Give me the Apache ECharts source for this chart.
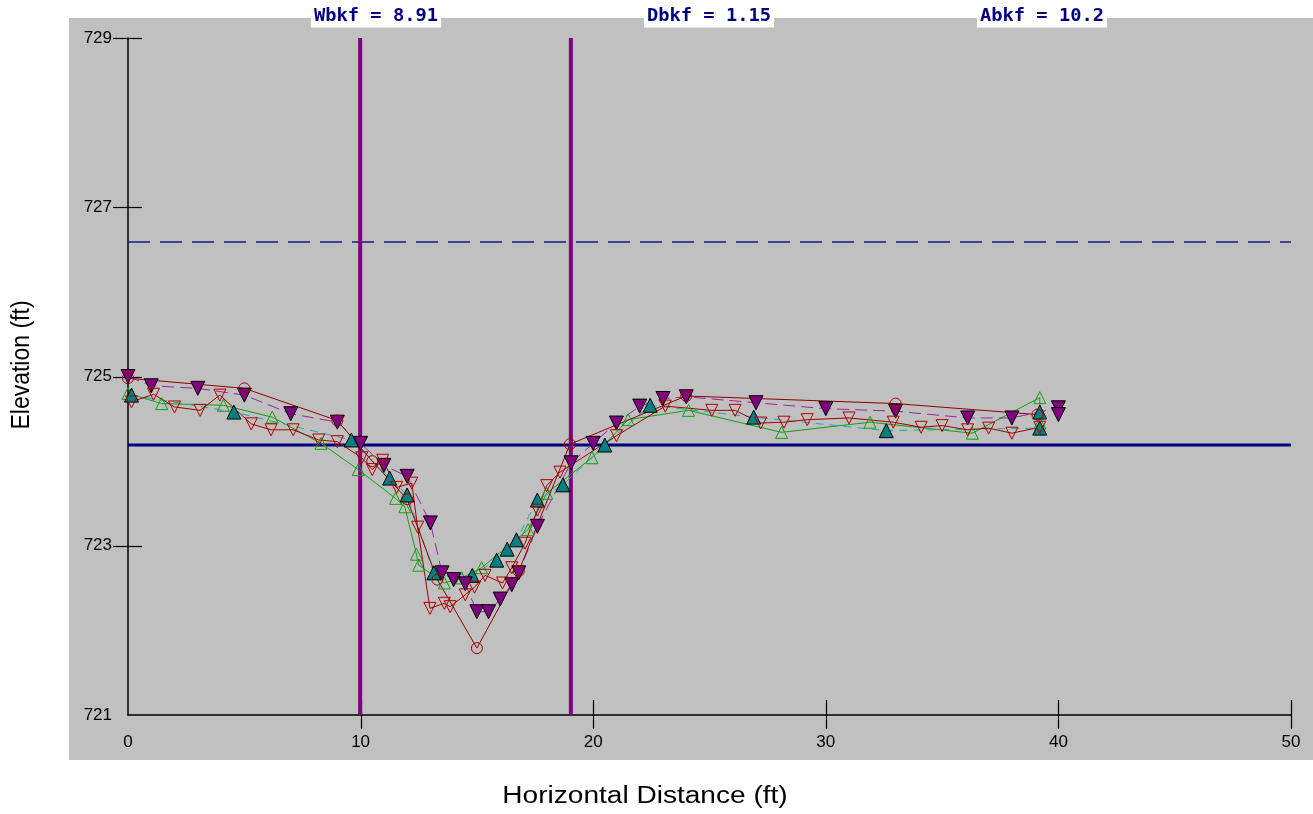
<!DOCTYPE html>
<html><head><meta charset="utf-8">
<script src="https://cdn.jsdelivr.net/npm/echarts@6/dist/echarts.min.js"></script>
<style>html,body{margin:0;padding:0;background:#fff}#c{width:1313px;height:814px}</style>
</head><body><div id="c"></div>
<script>
// ---- data ----
const xTickValues = [0, 10, 20, 30, 40, 50];
const yTickValues = [721, 723, 725, 727, 729];
const bankfullElev = 724.19;
const floodproneElev = 726.59;
const bankfullLeft = 9.98;
const bankfullRight = 19.04;
const summaryLabels = ['Wbkf = 8.91', 'Dbkf = 1.15', 'Abkf = 10.2'];

const surveyCircles = [[0,724.98],[5,724.86],[9,724.48],[10.5,724.0],[12,723.55],[13.3,722.6],[15,721.79],[16.8,722.7],[19,724.2],[24,724.77],[33,724.68],[39.1,724.55]];
const surveyPurple = [[0,725.0],[1,724.89],[3,724.86],[5,724.78],[7,724.56],[9,724.46],[10,724.21],[11,723.95],[12,723.82],[13,723.27],[13.5,722.68],[14,722.6],[14.5,722.55],[15,722.22],[15.5,722.22],[16,722.37],[16.5,722.54],[16.8,722.68],[17.6,723.23],[19.05,723.98],[20,724.21],[21,724.45],[22,724.65],[23,724.74],[24,724.76],[27,724.69],[30,724.62],[33,724.59],[36.1,724.51],[38,724.51],[40,724.63],[40,724.55]];
const surveyTeal = [[0.15,724.78],[4.55,724.58],[9.6,724.25],[11.25,723.8],[12,723.6],[13.15,722.68],[14.8,722.65],[15.85,722.83],[16.3,722.96],[16.7,723.07],[17.6,723.54],[18.7,723.72],[20.5,724.19],[22.45,724.66],[26.9,724.52],[32.6,724.36],[39.2,724.39],[39.2,724.58]];
const surveyGreen = [[0,724.8],[1.45,724.68],[4.1,724.66],[6.2,724.52],[8.3,724.21],[9.9,723.9],[11.5,723.56],[11.9,723.46],[12.4,722.9],[12.5,722.77],[13.6,722.56],[14.35,722.62],[15.2,722.74],[17.2,723.19],[18.0,723.62],[19.95,724.04],[21.5,724.49],[24.1,724.6],[28.1,724.34],[31.9,724.46],[36.3,724.33],[39.2,724.75],[39.2,724.45]];
const surveyRed = [[0.15,724.7],[1.1,724.79],[2.0,724.64],[3.1,724.6],[3.95,724.78],[5.3,724.44],[6.15,724.37],[7.1,724.37],[8.2,724.25],[9.0,724.23],[10.05,724.04],[10.5,723.9],[10.95,724.01],[11.55,723.69],[12.2,723.74],[12.45,723.22],[12.98,722.26],[13.6,722.32],[13.85,722.28],[14.5,722.42],[14.9,722.51],[15.35,722.65],[16.1,722.56],[16.5,722.74],[17.07,723.03],[17.6,723.42],[18.0,723.71],[18.57,723.87],[21.0,724.3],[23.1,724.65],[25.1,724.6],[26.1,724.6],[27.2,724.45],[28.2,724.46],[29.2,724.49],[31.0,724.51],[32.9,724.46],[34.1,724.4],[35.0,724.42],[36.1,724.37],[37.0,724.39],[38.0,724.33],[39.2,724.4]];

// ---- chart ----
const xMin = xTickValues[0], xMax = xTickValues[xTickValues.length - 1];
const yMin = yTickValues[0], yMax = yTickValues[yTickValues.length - 1];
const chart = echarts.init(document.getElementById('c'), null, {renderer: 'canvas'});
const fontFam = '"Liberation Sans", Arial, sans-serif';

function survey(data, lineColor, lineType, symbol, rotate, fill, border, size) {
  return {
    type: 'line', data: data, xAxisIndex: 0, yAxisIndex: 0,
    symbol: symbol, symbolSize: size, symbolRotate: rotate, showAllSymbol: true,
    lineStyle: {color: lineColor, width: 1, type: lineType},
    itemStyle: {color: fill, borderColor: border, borderWidth: 1},
    emphasis: {disabled: true}, animation: false, z: 5
  };
}
function refLine(data, color, width, type, z) {
  return {type: 'line', data: data, symbol: 'none', xAxisIndex: 0, yAxisIndex: 0,
    lineStyle: {color: color, width: width, type: type}, emphasis: {disabled: true}, animation: false, z: z};
}
// x axis: crossing ticks and tick labels drawn through the axis scale
const xTickSeries = {
  type: 'custom', silent: true, clip: false, z: 2, animation: false,
  data: xTickValues.map(v => [v, yMin]),
  renderItem: function (params, api) {
    const v = api.value(0);
    const p = api.coord([v, api.value(1)]);
    const x = Math.round(p[0]) + 0.5;
    const children = [{type: 'text', x: p[0], y: p[1] + 27,
      style: {text: String(v), align: 'center', verticalAlign: 'middle', font: '17px ' + fontFam, fill: '#000'}}];
    if (v !== xMin) {
      children.push({type: 'line', shape: {x1: x, y1: p[1] - 15, x2: x, y2: p[1] + 14}, style: {stroke: '#000', lineWidth: 1.2}});
    }
    return {type: 'group', children: children};
  }
};
// y axis: crossing ticks through the axis scale
const yTickSeries = {
  type: 'custom', silent: true, clip: false, z: 2, animation: false,
  data: yTickValues.slice(1).map(v => [xMin, v]),
  renderItem: function (params, api) {
    const p = api.coord([api.value(0), api.value(1)]);
    const y = Math.round(p[1]) + 0.5;
    return {type: 'line', shape: {x1: p[0] - 15, y1: y, x2: p[0] + 14, y2: y}, style: {stroke: '#000', lineWidth: 1.2}};
  }
};

const option = {
  backgroundColor: '#ffffff',
  animation: false,
  grid: {left: 128, right: 22, top: 38, bottom: 99},
  xAxis: {type: 'value', min: xMin, max: xMax, interval: 10,
     axisLine: {show: true, lineStyle: {color: '#000', width: 1.5}},
     axisTick: {show: false}, axisLabel: {show: false}, splitLine: {show: false}},
  yAxis: {type: 'value', min: yMin, max: yMax, interval: 2,
     axisLine: {show: true, lineStyle: {color: '#000', width: 1.5}},
     axisTick: {show: false},
     axisLabel: {margin: 16, fontSize: 17, color: '#000', fontFamily: fontFam, padding: [4, 0, 0, 0]},
     splitLine: {show: false}},
  graphic: {elements: [
    {type: 'rect', z: -10, silent: true, shape: {x: 69, y: 18, width: 1313 - 69, height: 760 - 18}, style: {fill: '#c0c0c0'}},
    {type: 'text', z: 100, x: 22, y: 365, rotation: Math.PI / 2, scaleY: 1.1,
     style: {text: 'Elevation (ft)', align: 'center', verticalAlign: 'middle', font: '23px ' + fontFam, fill: '#000'}},
    {type: 'text', z: 100, x: 645, y: 797, scaleX: 1.22,
     style: {text: 'Horizontal Distance (ft)', align: 'center', verticalAlign: 'middle', font: '23px ' + fontFam, fill: '#000'}},
    ...summaryLabels.map((t, i) => ({type: 'text', z: 100, x: [376, 709, 1042][i], y: 16, scaleX: 1.04,
      style: {text: t, align: 'center', verticalAlign: 'middle', font: 'bold 18px "DejaVu Sans Mono", monospace', fill: '#000080',
              backgroundColor: '#ffffff', padding: [3, 3, 2, 3]}}))
  ]},
  series: [
    xTickSeries,
    yTickSeries,
    refLine([[xMin, floodproneElev], [xMax, floodproneElev]], '#1a1a8c', 1.5, [22, 10], 3),
    refLine([[xMin, bankfullElev], [xMax, bankfullElev]], '#000080', 3, 'solid', 3),
    refLine([[bankfullLeft, yMin], [bankfullLeft, yMax]], '#800080', 4, 'solid', 3),
    refLine([[bankfullRight, yMin], [bankfullRight, yMax]], '#800080', 4, 'solid', 3),
    survey(surveyGreen, '#10a010', 'solid', 'triangle', 0, 'rgba(0,0,0,0)', '#10a010', 12),
    survey(surveyTeal, '#20a8a8', [8, 6], 'triangle', 0, '#008080', '#000', 14),
    survey(surveyPurple, '#a020a0', [12, 6], 'triangle', 180, '#800080', '#000', 14),
    survey(surveyRed, '#a00000', 'solid', 'triangle', 180, 'rgba(0,0,0,0)', '#b00000', 12),
    survey(surveyCircles, '#900000', 'solid', 'circle', 0, 'rgba(0,0,0,0)', '#a00000', 11)
  ]
};
chart.setOption(option);
</script>
</body></html>
